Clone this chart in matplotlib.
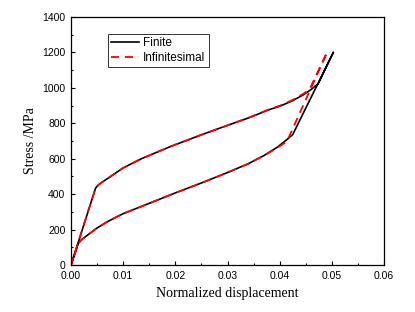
import numpy as np
import matplotlib
matplotlib.use('Agg')
import matplotlib.pyplot as plt
from matplotlib.ticker import MultipleLocator

# Finite strain loop: loading branch then unloading branch
finite_load_x = [0.0, 0.0047, 0.0050, 0.0055, 0.0062, 0.0070, 0.0100, 0.0135,
                 0.0190, 0.0250, 0.0295, 0.0340, 0.0380, 0.0401, 0.0425, 0.0445,
                 0.0460, 0.0474, 0.0503]
finite_load_y = [0, 433, 445, 458, 472, 488, 548, 600,
                 668, 735, 783, 830, 877, 897, 928, 960,
                 990, 1024, 1201]
finite_unload_x = [0.0503, 0.0425, 0.0413, 0.0395, 0.0370, 0.0340, 0.0300,
                   0.0250, 0.0200, 0.0150, 0.0100, 0.0070, 0.0049, 0.0040,
                   0.0030, 0.0020, 0.0014, 0.0]
finite_unload_y = [1201, 736, 706, 664, 618, 572, 522,
                   463, 407, 348, 290, 245, 207, 187,
                   165, 142, 122, 0]

# Infinitesimal strain loop
inf_load_x = [0.0, 0.0047, 0.0050, 0.0055, 0.0062, 0.0070, 0.0100, 0.0135,
              0.0190, 0.0250, 0.0295, 0.0340, 0.0380, 0.0401, 0.0425, 0.0445,
              0.0457, 0.0491]
inf_load_y = [0, 433, 445, 458, 472, 488, 548, 600,
              668, 735, 783, 831, 879, 900, 932, 966,
              990, 1201]
inf_unload_x = [0.0491, 0.0414, 0.0404, 0.0390, 0.0370, 0.0340, 0.0300,
                0.0250, 0.0200, 0.0150, 0.0100, 0.0070, 0.0049, 0.0040,
                0.0030, 0.0020, 0.0014, 0.0]
inf_unload_y = [1201, 698, 678, 652, 618, 572, 522,
                463, 407, 348, 290, 245, 207, 187,
                165, 142, 122, 0]

fig = plt.figure(figsize=(4.15, 3.12), dpi=100)
ax = fig.add_axes([71 / 415, 47 / 312, 313 / 415, 248 / 312])

fx = finite_load_x + finite_unload_x[1:]
fy = finite_load_y + finite_unload_y[1:]
ix = inf_load_x + inf_unload_x[1:]
iy = inf_load_y + inf_unload_y[1:]

ax.plot(fx, fy, color='black', lw=1.2, label='Finite')
ax.plot(ix, iy, color='red', lw=1.3, dashes=(4.5, 3.2), label='Infinitesimal')

ax.set_xlim(0, 0.06)
ax.set_ylim(0, 1400)
ax.xaxis.set_major_locator(MultipleLocator(0.01))
ax.xaxis.set_minor_locator(MultipleLocator(0.005))
ax.yaxis.set_major_locator(MultipleLocator(200))
ax.yaxis.set_minor_locator(MultipleLocator(100))
ax.xaxis.set_major_formatter(lambda v, p: f"{v:.2f}")

tick_font = 'Liberation Sans'
ax.tick_params(which='both', direction='in', top=False, right=False,
               labelsize=7.5, pad=4, width=0.8)
ax.tick_params(which='major', length=3)
ax.tick_params(which='minor', length=1.6)
for lab in ax.get_xticklabels() + ax.get_yticklabels():
    lab.set_fontfamily(tick_font)
for sp in ax.spines.values():
    sp.set_linewidth(0.9)

ax.set_xlabel('Normalized displacement', family='Liberation Serif', fontsize=10, labelpad=5)
ax.set_ylabel('Stress /MPa', family='Liberation Serif', fontsize=10, labelpad=4)

leg = ax.legend(loc='upper left', bbox_to_anchor=(0.118, 0.931), borderaxespad=0,
                prop={'family': tick_font, 'size': 8.5}, fancybox=False,
                edgecolor='#333333', framealpha=1, handlelength=2.4,
                handletextpad=0.35, borderpad=0.25, labelspacing=0.25)
leg.get_frame().set_linewidth(0.7)

fig.savefig('out.png', dpi=100)
